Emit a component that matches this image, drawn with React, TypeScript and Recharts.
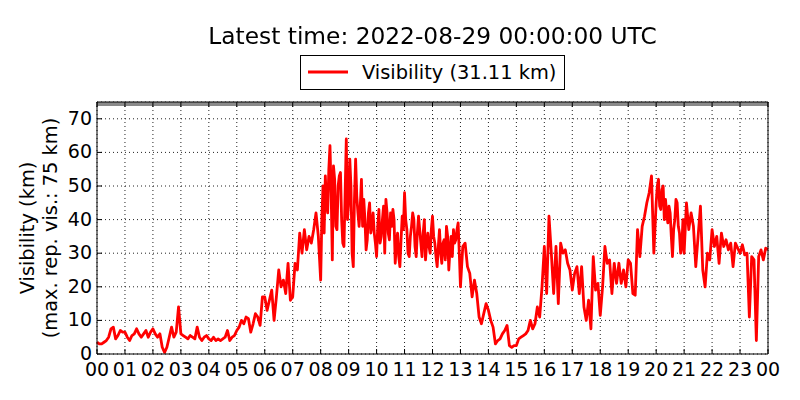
import React from 'react';
import { LineChart, Line, XAxis, YAxis, CartesianGrid, ReferenceArea, Legend } from 'recharts';

// tick labels along the time axis (hours of the day, ends on the next midnight)
const hourLabels = [
  '00', '01', '02', '03', '04', '05', '06', '07', '08', '09', '10', '11',
  '12', '13', '14', '15', '16', '17', '18', '19', '20', '21', '22', '23', '00',
];
const hourTicks = [0, 1, 2, 3, 4, 5, 6, 7, 8, 9, 10, 11, 12, 13, 14, 15, 16, 17, 18, 19, 20, 21, 22, 23, 24];
const visTicks = [0, 10, 20, 30, 40, 50, 60, 70];

const maxRepVis = 75;
const latestVis = 31.11;

// visibility in km, one row per hour; readings are evenly
// spaced inside their hour (12 per hour, 24 where the trace is very noisy)
const readings = [
  [3.5, 3, 3, 3.5, 4, 5, 7.5, 8, 4.5, 5.5, 7, 6.5], // 00
  [6.5, 5, 4, 5.5, 6, 7.5, 6, 5, 6, 7, 5, 6.5], // 01
  [7.5, 6, 5, 6, 2, 0.5, 2, 5, 8, 5, 6.5, 14], // 02
  [6, 5.5, 5, 4.5, 5.5, 5, 4.5, 8, 5, 4, 5, 5.5], // 03
  [4.5, 4, 5, 4, 4.5, 4, 4.5, 5, 7, 4, 5, 5.5], // 04
  [7, 8, 10, 9, 11, 10.5, 6.5, 9, 12, 11, 8.5, 17], // 05
  [17, 13, 16, 19, 10, 17, 25, 20, 22, 18, 27, 16], // 06
  [17, 27, 25, 36, 30, 37, 31, 35, 33, 37, 42, 35], // 07
  [22, 40, 50, 36, 53, 45, 42, 55, 62, 48, 28, 56, 52, 38, 37, 50, 53, 54, 40, 33, 32, 48, 64, 40], // 08
  [45, 58, 50, 30, 26, 46, 58, 47, 42, 38, 44, 52, 38, 46, 40, 31, 34, 42, 45, 36, 38, 42, 36, 33], // 09
  [29, 38, 43, 33, 35, 40, 44, 30, 46, 42, 36, 34, 42, 38, 43, 40, 27, 33, 36, 29, 26, 34, 41, 37], // 10
  [48, 40, 37, 30, 29, 35, 38, 42, 40, 32, 29, 36, 41, 37, 33, 29, 36, 40, 28, 33, 36, 32, 30, 37], // 11
  [41, 35, 33, 29, 26, 32, 37, 30, 27, 33, 34, 28, 38, 35, 25, 31, 35, 29, 37, 33, 34, 37, 39, 30], // 12
  [20, 32, 33, 26, 24, 17, 22, 18, 11, 9, 12, 15], // 13
  [13, 10, 8, 3, 4, 4.5, 6, 7, 8.5, 2.5, 2, 2.5], // 14
  [2.5, 4.5, 5, 5.5, 6, 7, 10, 7.5, 9, 14, 11, 20], // 15
  [32, 18, 41, 30, 18, 32, 15, 33, 30, 31, 27, 25], // 16
  [19, 24, 26, 18, 26, 14, 10, 16, 7.5, 29, 19, 21], // 17
  [11.5, 20, 32, 27, 28, 18, 27, 21, 27, 21, 25, 20], // 18
  [28, 27, 18, 17.5, 37, 29, 38, 41, 45, 48, 53, 30], // 19
  [45, 50, 52, 44, 43, 49, 50, 40, 46, 42, 39, 44, 42, 35, 29, 37, 40, 46, 45, 38, 36, 30, 32, 40], // 20
  [30, 45, 37, 42, 38, 26, 35, 44, 25, 20, 30, 28], // 21
  [37, 32, 35, 27, 36, 32, 34, 31, 33, 26, 33, 31.5], // 22
  [30, 32.5, 29.5, 30, 11, 29, 28, 4, 29, 31, 28, 31.5], // 23
];

const chartData = readings
  .flatMap((vals, h) => vals.map((v, k) => ({ t: h + k / vals.length, vis: v })))
  .concat([{ t: 24, vis: latestVis }]);

const FONT = '"DejaVu Sans", sans-serif';
const TICK_LEN = 5;

const BottomTick = ({ x, y, payload }: any) => (
  <g>
    <line x1={x} y1={y} x2={x} y2={y - TICK_LEN} stroke="#000" />
    <text x={x} y={y + 22} textAnchor="middle" fontSize={19} fontFamily={FONT} fill="#000">
      {hourLabels[Math.round(payload.value)]}
    </text>
  </g>
);

const TopTick = ({ x, y }: any) => <line x1={x} y1={y} x2={x} y2={y + TICK_LEN} stroke="#000" />;

const LeftTick = ({ x, y, payload }: any) => (
  <g>
    <line x1={x} y1={y} x2={x + TICK_LEN} y2={y} stroke="#000" />
    <text x={x - 5} y={y + 6} textAnchor="end" fontSize={19} fontFamily={FONT} fill="#000">
      {payload.value}
    </text>
  </g>
);

const RightTick = ({ x, y }: any) => <line x1={x} y1={y} x2={x - TICK_LEN} y2={y} stroke="#000" />;

const YLabel = () => (
  <g fontFamily={FONT} fontSize={19.4} fill="#000">
    <text x={34} y={228} textAnchor="middle" transform="rotate(-90 34 228)">
      Visibility (km)
    </text>
    <text x={57} y={228} textAnchor="middle" transform="rotate(-90 57 228)">
      (max. rep. vis.: {maxRepVis} km)
    </text>
  </g>
);

const LegendBox = () => (
  <svg width={266} height={36} style={{ display: 'block' }}>
    <rect x={0.5} y={0.5} width={264} height={34} fill="#fff" stroke="#000" />
    <line x1={8} x2={48} y1={17} y2={17} stroke="#ff0000" strokeWidth={3} />
    <text x={62} y={24} fontSize={19.4} fontFamily={FONT} fill="#000">
      Visibility ({latestVis.toFixed(2)} km)
    </text>
  </svg>
);

export default function App() {
  return (
    <div style={{ position: 'fixed', left: 0, top: 0, width: 800, height: 400, background: '#fff' }}>
      <div
        style={{
          position: 'absolute', left: 0, top: 24, width: 865, textAlign: 'center',
          fontFamily: FONT, fontSize: 23.3, lineHeight: '23px', color: '#000', zIndex: 2,
        }}
      >
        Latest time: 2022-08-29 00:00:00 UTC
      </div>
      <LineChart width={800} height={400} data={chartData} margin={{ top: 92, right: 22, bottom: 16, left: 37 }}>
        <CartesianGrid stroke="#222" strokeDasharray="1 3" />
        <ReferenceArea y1={73.8} y2={maxRepVis} fill="#8a8a8a" fillOpacity={1} stroke="none" ifOverflow="hidden" />
        <XAxis
          dataKey="t" type="number" domain={[0, 24]} ticks={hourTicks} interval={0}
          height={30} tickSize={0} tickMargin={0} tickLine={false}
          axisLine={{ stroke: '#000' }} tick={<BottomTick />}
        />
        <XAxis
          xAxisId="top" orientation="top" dataKey="t" type="number" domain={[0, 24]} ticks={hourTicks} interval={0}
          height={10} tickSize={0} tickMargin={0} tickLine={false}
          axisLine={{ stroke: '#000' }} tick={<TopTick />}
        />
        <YAxis
          type="number" domain={[0, maxRepVis]} ticks={visTicks} interval={0} allowDataOverflow
          width={60} tickSize={0} tickMargin={0} tickLine={false}
          axisLine={{ stroke: '#000' }} tick={<LeftTick />} label={<YLabel />}
        />
        <YAxis
          yAxisId="right" orientation="right" type="number" domain={[0, maxRepVis]} ticks={visTicks} interval={0}
          width={10} tickSize={0} tickMargin={0} tickLine={false}
          axisLine={{ stroke: '#000' }} tick={<RightTick />}
        />
        <Legend
          layout="horizontal" verticalAlign="middle" align="center"
          content={<LegendBox />}
          wrapperStyle={{ top: 55, left: 300, width: 266, height: 36 }}
        />
        <Line
          type="linear" dataKey="vis" stroke="#ff0000" strokeWidth={2.8} strokeLinejoin="round"
          dot={false} activeDot={false} isAnimationActive={false}
        />
      </LineChart>
    </div>
  );
}
